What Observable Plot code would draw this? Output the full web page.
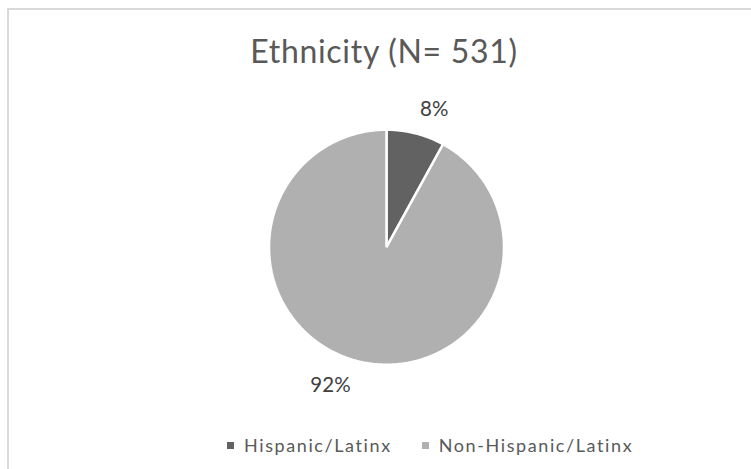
<!DOCTYPE html>
<html>
<head>
<meta charset="utf-8">
<script src="https://cdn.jsdelivr.net/npm/d3@7"></script>
<script src="https://cdn.jsdelivr.net/npm/@observablehq/plot@0.6"></script>
<style>
  html, body { margin: 0; padding: 0; background: #fff; }
  #wrap { position: relative; width: 751px; height: 469px; overflow: hidden; font-family: Lato, "Open Sans", sans-serif; color: #595959; }
  #frame { position: absolute; left: 7px; top: 8px; width: 760px; height: 480px; border-top: 2px solid #d9d9d9; border-left: 2px solid #d9d9d9; box-sizing: border-box; }
  #title { position: absolute; left: 0; width: 768px; top: 35px; text-align: center; font-size: 32px; line-height: 32px; letter-spacing: 0.7px; white-space: nowrap; }
  #legend { position: absolute; left: 227px; top: 436px; font-size: 18px; line-height: 18px; letter-spacing: 1.6px; white-space: nowrap; display: flex; align-items: center; }
  #legend span.item { display: flex; align-items: center; margin-right: 30px; }
  #legend span.sw { display: inline-block; width: 7px; height: 7px; margin-right: 10px; }
  #chart { position: absolute; left: 0; top: 0; }
</style>
</head>
<body>
<div id="wrap">
  <div id="frame"></div>
  <div id="chart"></div>
  <div id="title"></div>
  <div id="legend"></div>
</div>
<script>
const titleText = "Ethnicity (N= 531)";
const categories = ["Hispanic/Latinx", "Non-Hispanic/Latinx"];
const values = [8, 92];
const labels = ["8%", "92%"];
const colors = ["#626262", "#b0b0b0"];

document.getElementById("title").textContent = titleText;
const leg = document.getElementById("legend");
categories.forEach((c, i) => {
  const it = document.createElement("span");
  it.className = "item";
  const sw = document.createElement("span");
  sw.className = "sw";
  sw.style.background = colors[i];
  it.appendChild(sw);
  it.appendChild(document.createTextNode(c));
  leg.appendChild(it);
});

const pie = d3.pie().sort(null).value(d => d.value)(categories.map((c, i) => ({category: c, value: values[i], label: labels[i]})));
// point at clockwise angle a (from 12 o'clock), radius r
const pt = (a, r) => [r * Math.sin(a), r * Math.cos(a)];
const slices = pie.map(p => {
  const n = Math.max(2, Math.ceil((p.endAngle - p.startAngle) / 0.01));
  const ring = [[0, 0]];
  for (let k = 0; k <= n; k++) ring.push(pt(p.startAngle + (p.endAngle - p.startAngle) * k / n, 1));
  ring.push([0, 0]);
  return {type: "Feature", properties: {category: p.data.category}, geometry: {type: "Polygon", coordinates: [ring]}};
});
const labelData = pie.map(p => {
  const m = (p.startAngle + p.endAngle) / 2;
  const [x, y] = pt(m, 1.24);
  return {x, y, label: p.data.label, category: p.data.category};
});

const cx = 386, cy = 246.7, R = 117.5, W = 751, H = 469;
const labelFont = {fontSize: 20.5, fill: "#404040", fontFamily: "Lato, 'Open Sans', sans-serif", textAnchor: "middle"};
const chart = Plot.plot({
  width: W,
  height: H,
  marginLeft: cx - R,
  marginRight: W - cx - R,
  marginTop: cy - R,
  marginBottom: H - cy - R,
  projection: {type: "reflect-y", domain: {type: "MultiPoint", coordinates: [[-1, -1], [1, 1]]}, inset: 0, clip: false},
  color: {domain: categories, range: colors},
  style: {background: "transparent", overflow: "visible"},
  marks: [
    Plot.geo(slices, {fill: d => d.properties.category, stroke: "white", strokeWidth: 2.5, strokeLinejoin: "miter"}),
    Plot.text(labelData.filter(d => d.category === categories[0]), {x: "x", y: "y", text: "label", dx: 11.5, dy: 3.5, ...labelFont}),
    Plot.text(labelData.filter(d => d.category === categories[1]), {x: "x", y: "y", text: "label", dx: -19.8, dy: -2.4, ...labelFont})
  ]
});
document.getElementById("chart").appendChild(chart);
</script>
</body>
</html>
